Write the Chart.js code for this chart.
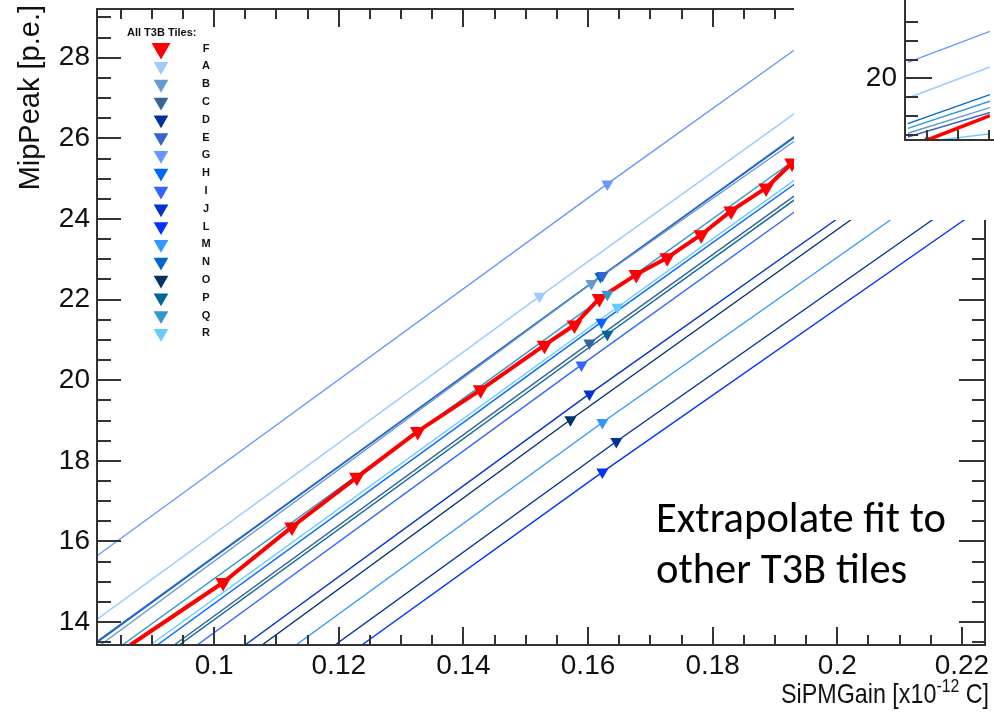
<!DOCTYPE html>
<html>
<head>
<meta charset="utf-8">
<title>MipPeak vs SiPMGain - T3B tiles</title>
<script src="https://cdn.jsdelivr.net/npm/chart.js@4.4.1/dist/chart.umd.min.js"></script>
<style>
  html, body { margin: 0; padding: 0; background: #fff; }
  #wrap { position: relative; width: 994px; height: 712px; overflow: hidden; }
  #main { position: absolute; left: 0; top: 0; }
  #inset { position: absolute; left: 794px; top: 0; background: #fff; }
</style>
</head>
<body>
<div id="wrap">
  <canvas id="main" width="994" height="712"></canvas>
  <canvas id="inset" width="200" height="220"></canvas>
</div>
<script>
// Axis ranges and tick labels
const xAxisMin = 0.0812, xAxisMax = 0.2237;
const yAxisMin = 13.43, yAxisMax = 29.21;
const xTickValues = [0.1, 0.12, 0.14, 0.16, 0.18, 0.2, 0.22];
const xTickLabels = ['0.1', '0.12', '0.14', '0.16', '0.18', '0.2', '0.22'];
const yTickValues = [14, 16, 18, 20, 22, 24, 26, 28];
const yTickLabels = ['14', '16', '18', '20', '22', '24', '26', '28'];

// Legend order
const legendTiles = ['F', 'A', 'B', 'C', 'D', 'E', 'G', 'H', 'I', 'J', 'L', 'M', 'N', 'O', 'P', 'Q', 'R'];

// Tile F: measured points (red graph)
const fGain = [0.10144, 0.11249, 0.12290, 0.13267, 0.14276, 0.15301, 0.15782, 0.16182,
               0.16774, 0.17271, 0.17816, 0.18296, 0.18857, 0.19273];
const fPeak = [14.98, 16.36, 17.59, 18.73, 19.76, 20.87, 21.37, 22.03,
               22.62, 23.04, 23.61, 24.20, 24.77, 25.39];
const fStartGain = 0.08655, fStartPeak = 13.43;

// Other tiles: measured point + extrapolated fit line (start / end)
const blueTiles    = ['A', 'B', 'C', 'D', 'E', 'G', 'H', 'I', 'J', 'L', 'M', 'N', 'O', 'P', 'Q', 'R'];
const markerGain   = [0.15221, 0.16054, 0.16022, 0.16454, 0.16230, 0.16310, 0.16214, 0.15894,
                      0.16022, 0.16230, 0.16230, 0.16198, 0.15717, 0.16310, 0.16310, 0.16470];
const markerPeak   = [22.08, 22.40, 20.92, 18.48, 22.60, 24.87, 21.44, 20.38,
                      19.66, 17.72, 18.95, 22.57, 19.02, 21.14, 22.13, 21.81];
const fitStartGain = [0.08126, 0.08174, 0.09359, 0.11938, 0.08126, 0.08126, 0.09087, 0.09728,
                      0.10496, 0.12370, 0.11313, 0.08126, 0.10769, 0.09439, 0.08527, 0.08975];
const fitStartPeak = [14.07, 13.43, 13.43, 13.43, 13.53, 15.65, 13.43, 13.43,
                      13.43, 13.43, 13.43, 13.50, 13.43, 13.43, 13.43, 13.43];
const fitEndGain   = [0.19625, 0.19625, 0.19625, 0.21803, 0.19625, 0.19625, 0.19625, 0.19625,
                      0.20250, 0.22316, 0.21131, 0.19625, 0.20490, 0.19625, 0.19625, 0.19625];
const fitEndPeak   = [26.96, 26.27, 24.92, 24.28, 26.40, 28.54, 25.21, 24.52,
                      24.28, 24.28, 24.28, 26.37, 24.28, 24.82, 25.81, 25.31];

// Pasted inset (top right corner)
const insetLineStartX = [0.385, 0.385, 0.385, 0.385, 0.385, 0.385, 1.30];
const insetLineStartY = [20.86, 18.96, 17.59, 17.34, 17.08, 16.88, 16.70];
const insetLineEndX   = [3.03, 3.03, 3.03, 3.03, 3.03, 3.03, 3.03];
const insetLineEndY   = [22.51, 20.61, 19.14, 18.79, 18.45, 18.19, 17.05];
const insetFGain = [1.01, 3.03];
const insetFPeak = [16.72, 18.02];

const tileColors = {
  F: '#ff0000', A: '#99ccff', B: '#6699cc', C: '#336699', D: '#003399', E: '#3366cc',
  G: '#6699ff', H: '#0066ff', I: '#3366ff', J: '#0033cc', L: '#0033ff', M: '#3399ff',
  N: '#0066cc', O: '#003366', P: '#006699', Q: '#3399cc', R: '#66ccff'
};
const insetLineColors = ['#6699ff', '#99ccff', '#0066cc', '#3399cc', '#6699cc', '#3366cc', '#66ccff'];

const labelFont = '28px "Liberation Sans", Arial, sans-serif';

function downTriangle(ctx, cx, cy, r) {
  const h = r * Math.sqrt(3) / 2;
  ctx.beginPath();
  ctx.moveTo(cx, cy + r);
  ctx.lineTo(cx - h, cy - r / 2);
  ctx.lineTo(cx + h, cy - r / 2);
  ctx.closePath();
  ctx.fill();
}

// Frame, ticks, labels, legend and note for the main plot
const mainDecor = {
  id: 'mainDecor',
  afterDatasetsDraw(chart) {
    const { ctx, chartArea: a, scales: { x, y } } = chart;
    ctx.save();

    // ticks on all four sides, pointing inward
    ctx.strokeStyle = '#333';
    ctx.lineWidth = 2;
    ctx.beginPath();
    for (let k = Math.ceil(xAxisMin / 0.005); k * 0.005 < xAxisMax; k++) {
      const px = Math.round(x.getPixelForValue(k * 0.005));
      const len = k % 4 === 0 ? 18 : 10;
      ctx.moveTo(px, a.bottom); ctx.lineTo(px, a.bottom - len);
      ctx.moveTo(px, a.top); ctx.lineTo(px, a.top + len);
    }
    for (let k = Math.ceil(yAxisMin / 0.5); k * 0.5 < yAxisMax; k++) {
      const py = Math.round(y.getPixelForValue(k * 0.5));
      const major = k % 4 === 0;
      ctx.moveTo(a.left, py); ctx.lineTo(a.left + (major ? 24 : 14), py);
      ctx.moveTo(a.right, py); ctx.lineTo(a.right - (major ? 26 : 13), py);
    }
    ctx.stroke();
    ctx.strokeRect(a.left, a.top, a.right - a.left, a.bottom - a.top);

    // tick labels
    ctx.fillStyle = '#111';
    ctx.font = labelFont;
    ctx.textAlign = 'center';
    ctx.textBaseline = 'middle';
    xTickValues.forEach((v, i) => {
      ctx.fillText(xTickLabels[i], x.getPixelForValue(v), a.bottom + 21);
    });
    ctx.textAlign = 'right';
    yTickValues.forEach((v, i) => {
      ctx.fillText(yTickLabels[i], a.left - 7, y.getPixelForValue(v));
    });

    // x title with superscript, slightly condensed like the original
    const big = '28px "Liberation Sans", Arial, sans-serif';
    const small = '19px "Liberation Sans", Arial, sans-serif';
    ctx.font = big;
    const wEnd = ctx.measureText(' C]').width;
    const wMain = ctx.measureText('SiPMGain [x10').width;
    ctx.font = small;
    const wSup = ctx.measureText('-12').width;
    const squeeze = 208 / (wEnd + wMain + wSup);
    ctx.save();
    ctx.translate(989, 703);
    ctx.scale(squeeze, 1);
    ctx.textBaseline = 'alphabetic';
    ctx.textAlign = 'right';
    ctx.font = big;
    ctx.fillText(' C]', 0, 0);
    ctx.font = small;
    ctx.fillText('-12', -wEnd, -11);
    ctx.font = big;
    ctx.fillText('SiPMGain [x10', -wEnd - wSup, 0);
    ctx.restore();

    // y title
    ctx.save();
    ctx.translate(31, 5);
    ctx.rotate(-Math.PI / 2);
    ctx.font = '29px "Liberation Sans", Arial, sans-serif';
    ctx.textAlign = 'right';
    ctx.textBaseline = 'middle';
    ctx.fillText('MipPeak [p.e.]', 0, 0);
    ctx.restore();

    // legend
    ctx.font = 'bold 11px "Liberation Sans", Arial, sans-serif';
    ctx.textAlign = 'left';
    ctx.textBaseline = 'middle';
    ctx.fillStyle = '#111';
    ctx.fillText('All T3B Tiles:', 127, 33);
    legendTiles.forEach((t, i) => {
      const cy = 48.5 + i * 17.8;
      ctx.fillStyle = tileColors[t];
      downTriangle(ctx, 161, cy, t === 'F' ? 11 : 8.5);
      ctx.fillStyle = '#111';
      ctx.textAlign = 'center';
      ctx.fillText(t, 206, cy);
    });

    // note
    ctx.fillStyle = '#000';
    ctx.textAlign = 'left';
    ctx.textBaseline = 'alphabetic';
    ctx.font = '33px Carlito, Lato, sans-serif';
    const w = ctx.measureText('Extrapolate fit to').width;
    const size = 33 * 290 / w;
    ctx.font = size.toFixed(1) + 'px Carlito, Lato, sans-serif';
    ctx.fillText('Extrapolate fit to', 656, 532);
    ctx.fillText('other T3B tiles', 656, 583);

    ctx.restore();
  }
};

// Datasets
const datasets = [];
blueTiles.forEach((t, i) => {
  datasets.push({
    data: [
      { x: fitStartGain[i], y: fitStartPeak[i] },
      { x: markerGain[i], y: markerPeak[i] },
      { x: fitEndGain[i], y: fitEndPeak[i] }
    ],
    showLine: true,
    borderColor: tileColors[t],
    borderWidth: 1.4,
    pointRadius: 0,
    order: 4
  });
  datasets.push({
    data: [{ x: markerGain[i], y: markerPeak[i] }],
    showLine: false,
    pointStyle: 'triangle',
    pointRotation: 180,
    pointRadius: 7,
    pointBackgroundColor: tileColors[t],
    pointBorderWidth: 0,
    order: 1
  });
});
datasets.push({
  data: [{ x: fStartGain, y: fStartPeak }].concat(fGain.map((g, i) => ({ x: g, y: fPeak[i] }))),
  showLine: true,
  borderColor: tileColors.F,
  borderWidth: 4,
  borderJoinStyle: 'round',
  pointRadius: 0,
  order: 3
});
datasets.push({
  data: fGain.map((g, i) => ({ x: g, y: fPeak[i] })),
  showLine: false,
  pointStyle: 'triangle',
  pointRotation: 180,
  pointRadius: 9,
  pointBackgroundColor: tileColors.F,
  pointBorderWidth: 0,
  order: 2
});

new Chart(document.getElementById('main'), {
  type: 'scatter',
  data: { datasets: datasets },
  options: {
    responsive: false,
    animation: false,
    devicePixelRatio: 1,
    layout: { padding: { left: 97, right: 7, top: 5, bottom: 67 } },
    plugins: { legend: { display: false }, tooltip: { enabled: false } },
    scales: {
      x: { type: 'linear', display: false, min: xAxisMin, max: xAxisMax },
      y: { type: 'linear', display: false, min: yAxisMin, max: yAxisMax }
    }
  },
  plugins: [mainDecor]
});

// Inset axes
const insetDecor = {
  id: 'insetDecor',
  afterDatasetsDraw(chart) {
    const { ctx, chartArea: a, scales: { x, y } } = chart;
    ctx.save();
    ctx.strokeStyle = '#333';
    ctx.lineWidth = 2;
    ctx.beginPath();
    ctx.moveTo(a.left, 0); ctx.lineTo(a.left, a.bottom); ctx.lineTo(chart.width, a.bottom);
    for (let v = 17; v <= 23; v++) {
      const py = Math.round(y.getPixelForValue(v));
      ctx.moveTo(a.left, py); ctx.lineTo(a.left + (v === 20 ? 27 : 13), py);
    }
    for (let v = 1; v <= 3; v++) {
      const px = Math.round(x.getPixelForValue(v));
      ctx.moveTo(px, a.bottom); ctx.lineTo(px, a.bottom - 10);
    }
    ctx.stroke();
    ctx.fillStyle = '#111';
    ctx.font = labelFont;
    ctx.textAlign = 'right';
    ctx.textBaseline = 'middle';
    ctx.fillText('20', a.left - 8, y.getPixelForValue(20));
    ctx.restore();
  }
};

const insetSets = insetLineColors.map((c, i) => ({
  data: [{ x: insetLineStartX[i], y: insetLineStartY[i] }, { x: insetLineEndX[i], y: insetLineEndY[i] }],
  showLine: true,
  borderColor: c,
  borderWidth: 1.4,
  pointRadius: 0,
  order: 2
}));
insetSets.push({
  data: insetFGain.map((g, i) => ({ x: g, y: insetFPeak[i] })),
  showLine: true,
  borderColor: tileColors.F,
  borderWidth: 3.5,
  pointRadius: [3, 0],
  pointBackgroundColor: tileColors.F,
  pointBorderWidth: 0,
  order: 1
});

new Chart(document.getElementById('inset'), {
  type: 'scatter',
  data: { datasets: insetSets },
  options: {
    responsive: false,
    animation: false,
    devicePixelRatio: 1,
    layout: { padding: { left: 111, right: 0, top: 0, bottom: 80 } },
    plugins: { legend: { display: false }, tooltip: { enabled: false } },
    scales: {
      x: { type: 'linear', display: false, min: 0.292, max: 3.031 },
      y: { type: 'linear', display: false, min: 16.72, max: 23.97 }
    }
  },
  plugins: [insetDecor]
});
</script>
</body>
</html>
